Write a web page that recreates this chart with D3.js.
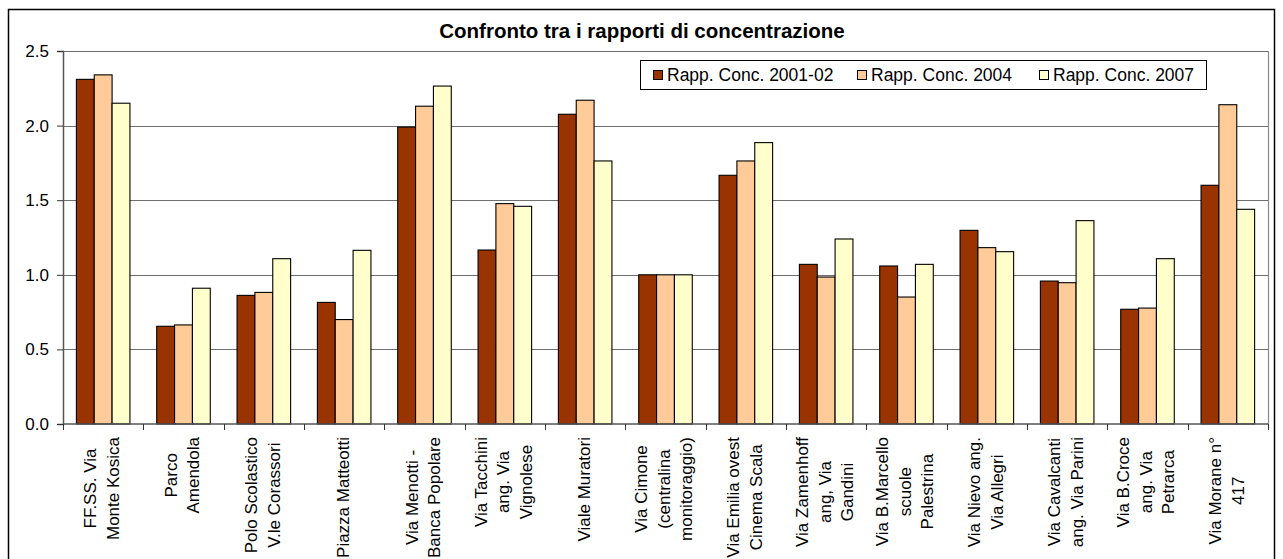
<!DOCTYPE html>
<html>
<head>
<meta charset="utf-8">
<script src="https://cdn.jsdelivr.net/npm/d3@7"></script>
<style>
  html, body { margin: 0; padding: 0; background: #fff; }
  svg { display: block; font-family: "Liberation Sans", Arial, sans-serif; }
</style>
</head>
<body>
<svg id="chart" width="1283" height="559"></svg>
<script>
// ---- data ----
const chartTitle = "Confronto tra i rapporti di concentrazione";
const categories = [
  ["FF.SS. Via", "Monte Kosica"],
  ["Parco", "Amendola"],
  ["Polo Scolastico", "V.le Corassori"],
  ["Piazza Matteotti"],
  ["Via Menotti -", "Banca Popolare"],
  ["Via Tacchini", "ang. Via", "Vignolese"],
  ["Viale Muratori"],
  ["Via Cimone", "(centralina", "monitoraggio)"],
  ["Via Emilia ovest", "Cinema Scala"],
  ["Via Zamenhoff", "ang, Via", "Gandini"],
  ["Via B.Marcello", "scuole", "Palestrina"],
  ["Via Nievo ang.", "Via Allegri"],
  ["Via Cavalcanti", "ang. Via Parini"],
  ["Via B.Croce", "ang. Via", "Petrarca"],
  ["Via Morane n°", "417"]
];
const seriesNames = ["Rapp. Conc. 2001-02", "Rapp. Conc. 2004", "Rapp. Conc. 2007"];
const values2001 = [2.31, 0.655, 0.862, 0.815, 1.99, 1.166, 2.076, 1.0, 1.667, 1.07, 1.059, 1.298, 0.958, 0.769, 1.60];
const values2004 = [2.34, 0.664, 0.882, 0.70, 2.13, 1.477, 2.17, 1.0, 1.763, 0.985, 0.851, 1.182, 0.947, 0.777, 2.14];
const values2007 = [2.15, 0.91, 1.108, 1.164, 2.265, 1.459, 1.763, 1.0, 1.886, 1.24, 1.07, 1.155, 1.363, 1.108, 1.439];
const yTicks = [0, 0.5, 1.0, 1.5, 2.0, 2.5];
const seriesColors = ["#993300", "#FFCC99", "#FFFFCC"];

// ---- layout ----
const svg = d3.select("#chart");
const plot = { left: 63, right: 1268, top: 51, bottom: 424 };
const seriesValues = [values2001, values2004, values2007];

// outer chart border
svg.append("rect")
  .attr("x", 8.5).attr("y", 9.5)
  .attr("width", 1266).attr("height", 600)
  .attr("fill", "#fff").attr("stroke", "#000").attr("stroke-width", 1.5);

const x = d3.scaleBand()
  .domain(d3.range(categories.length))
  .range([plot.left, plot.right])
  .padding(0);
const step = x.bandwidth();
const barW = step / 4.5;
const xs = d3.scaleBand().domain(d3.range(3))
  .range([0.75 * barW, 0.75 * barW + 3 * barW]).padding(0);

const y = d3.scaleLinear().domain([0, 2.5]).range([plot.bottom, plot.top]);

// gridlines
svg.append("g")
  .selectAll("line")
  .data(yTicks.filter(t => t > 0))
  .join("line")
  .attr("x1", plot.left).attr("x2", plot.right)
  .attr("y1", d => Math.round(y(d)) + 0.5).attr("y2", d => Math.round(y(d)) + 0.5)
  .attr("stroke", "#6f6f6f").attr("stroke-width", 1);

// plot area right border
svg.append("line")
  .attr("x1", plot.right + 0.5).attr("x2", plot.right + 0.5)
  .attr("y1", plot.top).attr("y2", plot.bottom)
  .attr("stroke", "#8a8a8a").attr("stroke-width", 1.2);

// bars
const groups = svg.append("g")
  .selectAll("g")
  .data(categories.map((c, i) => i))
  .join("g")
  .attr("transform", i => `translate(${x(i)},0)`);

groups.selectAll("rect")
  .data(i => seriesValues.map((vals, s) => ({ s, v: vals[i] })))
  .join("rect")
  .attr("x", d => xs(d.s))
  .attr("y", d => y(d.v))
  .attr("width", xs.bandwidth())
  .attr("height", d => y(0) - y(d.v))
  .attr("fill", d => seriesColors[d.s])
  .attr("stroke", "#000")
  .attr("stroke-width", 1.1);

// y axis
const yAxis = d3.axisLeft(y)
  .tickValues(yTicks)
  .tickFormat(d3.format(".1f"))
  .tickSize(6)
  .tickPadding(8);
const yg = svg.append("g")
  .attr("transform", `translate(${plot.left},0)`)
  .call(yAxis);
yg.select(".domain").attr("stroke", "#555").attr("stroke-width", 1.5);
yg.selectAll(".tick line").attr("stroke", "#333");
yg.selectAll(".tick text")
  .attr("font-size", 17)
  .attr("fill", "#000")
  .attr("font-family", "Liberation Sans, Arial, sans-serif");

// x axis (tick marks between categories)
const xAxisLine = svg.append("g");
xAxisLine.append("line")
  .attr("x1", plot.left).attr("x2", plot.right)
  .attr("y1", plot.bottom).attr("y2", plot.bottom)
  .attr("stroke", "#555").attr("stroke-width", 1.5);
xAxisLine.selectAll("line.tk")
  .data(d3.range(categories.length + 1))
  .join("line")
  .attr("class", "tk")
  .attr("x1", i => Math.round(plot.left + i * step) + 0.5)
  .attr("x2", i => Math.round(plot.left + i * step) + 0.5)
  .attr("y1", plot.bottom).attr("y2", plot.bottom + 6)
  .attr("stroke", "#333");

// category labels (rotated)
const lineGap = 22.5;
const labelTop = 437;
const labels = svg.append("g")
  .selectAll("g")
  .data(categories.map((c, i) => ({ lines: c, i })))
  .join("g")
  .attr("transform", d => `translate(${x(d.i) + step / 2 - 1.5},${labelTop}) rotate(-90)`);

labels.each(function (d) {
  const g = d3.select(this);
  const texts = g.selectAll("text")
    .data(d.lines)
    .join("text")
    .attr("font-size", 17)
    .attr("fill", "#000")
    .attr("text-anchor", "middle")
    .attr("dy", "0.35em")
    .attr("y", (t, k) => (k - (d.lines.length - 1) / 2) * lineGap)
    .text(t => t);
  let maxLen = 0;
  texts.each(function () { maxLen = Math.max(maxLen, this.getComputedTextLength()); });
  texts.attr("x", -maxLen / 2);
});

// title
svg.append("text")
  .attr("x", 642).attr("y", 38)
  .attr("text-anchor", "middle")
  .attr("font-size", 20.5)
  .attr("font-weight", "bold")
  .attr("fill", "#000")
  .text(chartTitle);

// legend
const legend = svg.append("g");
legend.append("rect")
  .attr("x", 640.5).attr("y", 60.5)
  .attr("width", 566).attr("height", 29)
  .attr("fill", "#fff").attr("stroke", "#000").attr("stroke-width", 1);
const legendX = [653, 857, 1039];
const items = legend.selectAll("g.item")
  .data(seriesNames.map((n, i) => ({ n, i })))
  .join("g")
  .attr("class", "item")
  .attr("transform", d => `translate(${legendX[d.i]},0)`);
items.append("rect")
  .attr("x", 0.5).attr("y", 70.5)
  .attr("width", 9).attr("height", 9)
  .attr("fill", d => seriesColors[d.i])
  .attr("stroke", "#000");
items.append("text")
  .attr("x", 14).attr("y", 81)
  .attr("font-size", 17.5)
  .attr("fill", "#000")
  .text(d => d.n);
</script>
</body>
</html>
